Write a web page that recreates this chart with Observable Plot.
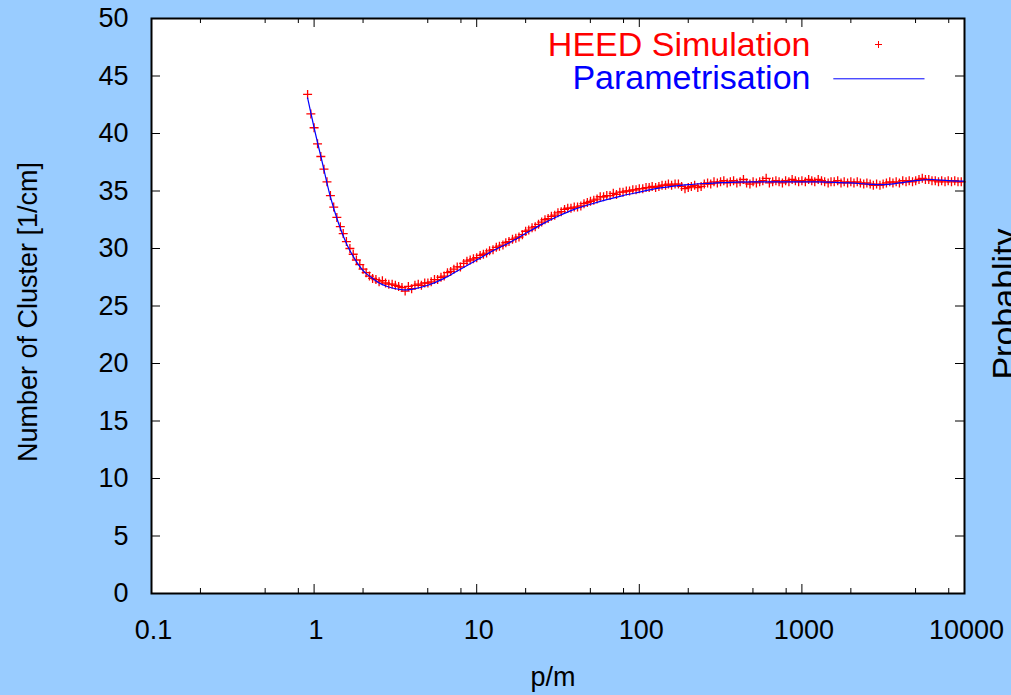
<!DOCTYPE html>
<html><head><meta charset="utf-8">
<script src="https://cdn.jsdelivr.net/npm/d3@7"></script>
<script src="https://cdn.jsdelivr.net/npm/@observablehq/plot@0.6"></script>
<style>html,body{margin:0;padding:0;background:#99ccff;overflow:hidden}</style>
</head><body><div id="chart"></div>
<script>
// HEED simulation: p/m and number of clusters per cm
const simP = [0.912, 0.955,
 1.00, 1.05, 1.10, 1.15, 1.20, 1.26, 1.32, 1.38, 1.45, 1.51, 1.58, 1.66, 1.74, 1.82, 1.91, 2.00, 2.09, 2.19, 2.29, 2.40, 2.51, 2.63, 2.75, 2.88, 3.02, 3.16, 3.31, 3.47, 3.63, 3.80, 3.98, 4.17, 4.37, 4.57, 4.79, 5.01, 5.25, 5.50, 5.75, 6.03, 6.31, 6.61, 6.92, 7.24, 7.59, 7.94, 8.32, 8.71, 9.12, 9.55,
 10.0, 10.5, 11.0, 11.5, 12.0, 12.6, 13.2, 13.8, 14.5, 15.1, 15.8, 16.6, 17.4, 18.2, 19.1, 20.0, 20.9, 21.9, 22.9, 24.0, 25.1, 26.3, 27.5, 28.8, 30.2, 31.6, 33.1, 34.7, 36.3, 38.0, 39.8, 41.7, 43.7, 45.7, 47.9, 50.1, 52.5, 55.0, 57.5, 60.3, 63.1, 66.1, 69.2, 72.4, 75.9, 79.4, 83.2, 87.1, 91.2, 95.5,
 100, 105, 110, 115, 120, 126, 132, 138, 145, 151, 158, 166, 174, 182, 191, 200, 209, 219, 229, 240, 251, 263, 275, 288, 302, 316, 331, 347, 363, 380, 398, 417, 437, 457, 479, 501, 525, 550, 575, 603, 631, 661, 692, 724, 759, 794, 832, 871, 912, 955,
 1000, 1050, 1100, 1150, 1200, 1260, 1320, 1380, 1450, 1510, 1580, 1660, 1740, 1820, 1910, 2000, 2090, 2190, 2290, 2400, 2510, 2630, 2750, 2880, 3020, 3160, 3310, 3470, 3630, 3800, 3980, 4170, 4370, 4570, 4790, 5010, 5250, 5500, 5750, 6030, 6310, 6610, 6920, 7240, 7590, 7940, 8320, 8710, 9120, 9550];
const simN = [43.4, 41.7,
 40.5, 39.1, 38.0, 36.9, 35.8, 34.6, 33.6, 32.7, 31.9, 31.3, 30.6, 30.0, 29.5, 29.0, 28.6, 28.2, 27.9, 27.6, 27.4, 27.3, 27.1, 27.2, 27.0, 26.9, 26.9, 26.8, 26.7, 26.6, 26.3, 26.7, 26.5, 26.8, 26.9, 26.8, 27.0, 27.0, 27.1, 27.3, 27.3, 27.5, 27.6, 27.9, 28.0, 28.2, 28.4, 28.4, 28.7, 28.9, 29.0, 29.1,
 29.2, 29.4, 29.5, 29.6, 29.8, 29.9, 30.1, 30.2, 30.3, 30.5, 30.6, 30.8, 30.9, 31.0, 31.2, 31.5, 31.6, 31.8, 31.9, 32.1, 32.3, 32.5, 32.6, 32.8, 32.9, 33.1, 33.2, 33.4, 33.5, 33.5, 33.6, 33.6, 33.7, 33.9, 34.0, 34.1, 34.2, 34.3, 34.5, 34.5, 34.6, 34.6, 34.8, 34.7, 34.9, 34.9, 35.0, 35.0, 35.1, 35.1,
 35.2, 35.2, 35.3, 35.3, 35.4, 35.3, 35.4, 35.5, 35.5, 35.6, 35.5, 35.6, 35.6, 35.4, 35.2, 35.3, 35.4, 35.5, 35.3, 35.4, 35.6, 35.7, 35.6, 35.8, 35.7, 35.8, 35.9, 35.7, 35.8, 35.9, 35.7, 35.8, 36.0, 35.7, 35.6, 35.8, 35.7, 35.8, 35.9, 36.1, 35.7, 35.8, 35.9, 35.8, 35.7, 35.9, 35.8, 36.0, 35.9, 35.8,
 35.9, 35.8, 36.0, 35.9, 35.8, 36.0, 35.9, 35.8, 35.7, 35.8, 35.8, 35.9, 35.7, 35.8, 35.7, 35.8, 35.7, 35.8, 35.7, 35.6, 35.7, 35.6, 35.5, 35.6, 35.5, 35.6, 35.7, 35.8, 35.7, 35.8, 35.7, 35.9, 35.8, 35.9, 35.8, 35.9, 36.0, 36.1, 36.0, 36.0, 35.9, 35.9, 35.8, 35.9, 35.8, 35.9, 35.8, 35.9, 35.8, 35.8];

// Parametrisation curve
const fitP = [0.912, 1.0, 1.122, 1.259, 1.413, 1.585, 1.778, 1.995, 2.239, 2.512, 2.818, 3.162, 3.548, 3.981, 5.012, 6.310, 7.943, 10, 12.59, 15.85, 19.95, 25.12, 31.62, 39.81, 50.12, 63.10, 79.43, 100, 125.9, 158.5, 199.5, 251.2, 316.2, 398.1, 501.2, 631, 794.3, 1000, 1259, 1585, 1995, 2512, 3162, 3981, 5012, 6310, 7943, 10000];
const fitN = [43.1, 40.5, 37.5, 34.5, 32.2, 30.4, 29.1, 28.1, 27.5, 27.0, 26.7, 26.5, 26.4, 26.45, 26.8, 27.4, 28.2, 29.0, 29.8, 30.5, 31.3, 32.1, 32.8, 33.4, 33.85, 34.25, 34.6, 34.9, 35.2, 35.4, 35.55, 35.65, 35.72, 35.78, 35.8, 35.8, 35.8, 35.8, 35.8, 35.75, 35.7, 35.6, 35.55, 35.7, 35.9, 36.0, 35.9, 35.85];

const xTicks = [0.1, 1, 10, 100, 1000, 10000];
const xTickLabels = ["0.1", "1", "10", "100", "1000", "10000"];
const xMinor = [0.2, 0.5, 0.8, 2, 5, 8, 20, 50, 80, 200, 500, 800, 2000, 5000, 8000];
const yTicks = [0, 5, 10, 15, 20, 25, 30, 35, 40, 45, 50];
const seriesNames = ["HEED Simulation", "Parametrisation"];
const xTitle = "p/m";
const yTitle = "Number of Cluster [1/cm]";
const rightTitle = "Probablity";

const plusSym = {draw(ctx, size) { const h = Math.sqrt(size / Math.PI); ctx.moveTo(-h, 0); ctx.lineTo(h, 0); ctx.moveTo(0, -h); ctx.lineTo(0, h); }};
const hlineSym = {draw(ctx, size) { ctx.moveTo(-45.6, 0); ctx.lineTo(45.6, 0); }};
const xLabelMap = new Map(xTicks.map((t, i) => [t, xTickLabels[i]]));

const W = 1011, H = 695, mL = 151, mR = 47, mT = 18, mB = 102;
const pw = W - mL - mR, ph = H - mT - mB;

const chart = Plot.plot({
  width: W, height: H,
  marginLeft: mL, marginRight: mR, marginTop: mT, marginBottom: mB,
  style: {background: "#99ccff", fontFamily: "'Liberation Sans', Arial, Helvetica, sans-serif", color: "black"},
  x: {type: "log", domain: [0.1, 10000], label: null},
  y: {domain: [0, 50], label: null},
  marks: [
    Plot.frame({fill: "white", stroke: "none"}),
    Plot.dot(simP, {x: simP, y: simN, symbol: plusSym, r: 4.5, fill: "none", stroke: "#ff0000", strokeWidth: 1.3}),
    Plot.line(fitP, {x: fitP, y: fitN, stroke: "#0000ff", strokeWidth: 1.2, curve: "monotone-x"}),
    Plot.tickX(xTicks, {x: d => d, insetTop: ph - 9, stroke: "black"}),
    Plot.tickX(xTicks, {x: d => d, insetBottom: ph - 9, stroke: "black"}),
    Plot.tickX(xMinor, {x: d => d, insetTop: ph - 5, stroke: "black"}),
    Plot.tickX(xMinor, {x: d => d, insetBottom: ph - 5, stroke: "black"}),
    Plot.tickY(yTicks, {y: d => d, insetRight: pw - 9, stroke: "black"}),
    Plot.tickY(yTicks, {y: d => d, insetLeft: pw - 9, stroke: "black"}),
    Plot.frame({stroke: "black", strokeWidth: 2}),
    Plot.axisX({ticks: xTicks, tickSize: 0, tickPadding: 26, fontSize: 27, tickFormat: d => xLabelMap.get(d), dx: 2}),
    Plot.axisY({ticks: yTicks, tickSize: 0, tickPadding: 23, fontSize: 27}),
    Plot.text([xTitle], {text: d => d, frameAnchor: "bottom", lineAnchor: "middle", textAnchor: "middle", dx: -5, dy: 84, fontSize: 27, fill: "black"}),
    Plot.text([yTitle], {text: d => d, frameAnchor: "left", lineAnchor: "middle", textAnchor: "middle", rotate: -90, dx: -123, dy: 6, fontSize: 27, fill: "black"}),
    Plot.text([rightTitle], {text: d => d, frameAnchor: "right", lineAnchor: "middle", textAnchor: "middle", rotate: -90, dx: 41, dy: -2, fontSize: 34, fill: "black"}),
    Plot.text([seriesNames[0]], {text: d => d, frameAnchor: "top-right", lineAnchor: "middle", textAnchor: "end", dx: -154, dy: 27, fontSize: 34, fill: "#ff0000"}),
    Plot.text([seriesNames[1]], {text: d => d, frameAnchor: "top-right", lineAnchor: "middle", textAnchor: "end", dx: -154, dy: 59.4, fontSize: 34, fill: "#0000ff"}),
    Plot.dot([seriesNames[0]], {frameAnchor: "top-right", dx: -86, dy: 26, symbol: plusSym, r: 3.5, fill: "none", stroke: "#ff0000", strokeWidth: 1}),
    Plot.dot([seriesNames[1]], {frameAnchor: "top-right", dx: -85.6, dy: 60.3, symbol: hlineSym, r: 1, fill: "none", stroke: "#0000ff", strokeWidth: 1})
  ]
});
document.getElementById("chart").appendChild(chart);
</script>
</body></html>
